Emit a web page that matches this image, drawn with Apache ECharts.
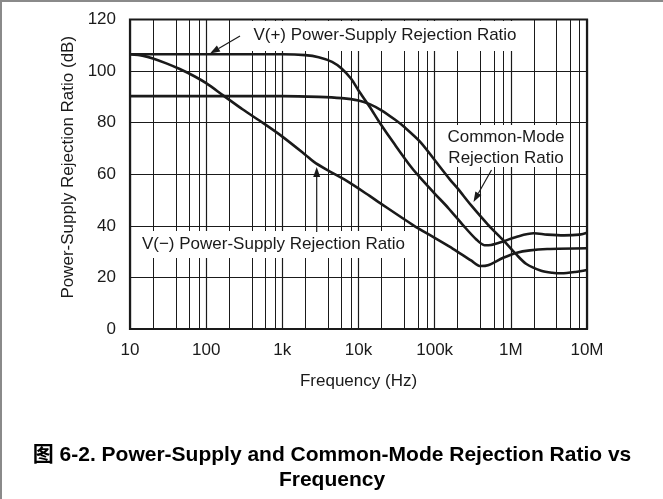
<!DOCTYPE html>
<html><head><meta charset="utf-8">
<script src="https://cdn.jsdelivr.net/npm/echarts@6/dist/echarts.min.js"></script>
<style>html,body{margin:0;padding:0;background:#fff}#c{width:663px;height:499px}</style>
</head><body><div id="c"></div>
<script>
// ---- axis definitions ----
const freqTicks = [10, 100, 1000, 10000, 100000, 1000000, 10000000];
const freqTickLabels = ['10', '100', '1k', '10k', '100k', '1M', '10M'];
const minorMultipliers = [2, 4, 6, 8];
const yMin = 0, yMax = 120, yStep = 20;

// ---- series data ----
const vPlusFreq = [10, 100, 1000, 2000, 3000, 4500, 6000, 8000, 10000, 14000, 19000, 30000, 50000, 70000, 100000, 150000, 240000, 350000, 450000, 550000, 800000, 1200000, 2000000, 3000000, 5000000, 8000000, 10000000];
const vPlusDb   = [106.5, 106.5, 106.5, 106.2, 105.4, 103.6, 101, 97, 92.5, 86.2, 80, 71.5, 62.5, 57.5, 52.5, 47, 40, 34.8, 32.5, 32.6, 34, 35.8, 37.1, 36.6, 36.3, 36.6, 37.3];

const cmrrFreq = [10, 100, 1000, 3000, 6000, 10000, 14000, 20000, 30000, 40000, 65000, 100000, 158000, 200000, 300000, 500000, 870000, 1170000, 1600000, 2500000, 3500000, 4600000, 7000000, 10000000];
const cmrrDb   = [90.3, 90.3, 90.3, 90.0, 89.5, 88.6, 87.2, 84.8, 81.2, 78.3, 72.5, 65.5, 58, 54.5, 48, 40.5, 33.2, 29, 25.2, 22.6, 21.8, 21.6, 22.1, 22.9];

const vMinusFreq = [10, 15, 20, 30, 45, 70, 100, 167, 300, 562, 1000, 2000, 2600, 3800, 7000, 14000, 19000, 52000, 100000, 174000, 300000, 400000, 500000, 794000, 1200000, 1780000, 3000000, 10000000];
const vMinusDb   = [106.5, 105.9, 104.9, 103.0, 100.8, 98.0, 95.3, 90.6, 85.2, 79.8, 74.6, 67.6, 64.8, 61.8, 57.4, 51.6, 48.9, 40.3, 35.3, 31.1, 26.6, 24.4, 24.7, 27.6, 29.6, 30.5, 31, 31.3];

const titleLines = ['图 6-2. Power-Supply and Common-Mode Rejection Ratio vs', 'Frequency'];

// ---- layout ----
const G = { left: 130, top: 19.5, right: 76, bottom: 170 };
const W = 663, H = 499;
const INK = '#1a1a1a';
const FONT = '"Liberation Sans", Arial, Helvetica, "Noto Sans CJK SC", sans-serif';

const minorLines = [];
for (let i = 0; i < freqTicks.length - 1; i++) {
  minorMultipliers.forEach(m => minorLines.push({ xAxis: freqTicks[i] * m }));
}
const zip = (a, b) => a.map((v, i) => [v, b[i]]);

function arrow(x1, y1, x2, y2) {
  const ang = Math.atan2(y2 - y1, x2 - x1);
  const L = 10, Wd = 3.5;
  const bx = x2 - L * Math.cos(ang), by = y2 - L * Math.sin(ang);
  const px = -Math.sin(ang) * Wd, py = Math.cos(ang) * Wd;
  return [
    { type: 'line', z: 50, shape: { x1, y1, x2: bx, y2: by }, style: { stroke: INK, lineWidth: 1.2 } },
    { type: 'polygon', z: 50, shape: { points: [[x2, y2], [bx + px, by + py], [bx - px, by - py]] }, style: { fill: INK } }
  ];
}
function box(x, y, w, h) {
  return { type: 'rect', z: 3, shape: { x, y, width: w, height: h }, style: { fill: '#fff' } };
}
function label(text, x, y) {
  return { type: 'text', z: 50, x, y, style: { text, fill: INK, font: '17px ' + FONT, textAlign: 'center', textVerticalAlign: 'middle' } };
}

const chart = echarts.init(document.getElementById('c'), null, { renderer: 'canvas' });
const lineStyle = { color: INK, width: 2.6 };
const seriesBase = { type: 'line', showSymbol: false, symbol: 'none', smooth: 0.3, z: 5, lineStyle, silent: true };

chart.setOption({
  animation: false,
  backgroundColor: '#fff',
  textStyle: { fontFamily: FONT },
  grid: { left: G.left, top: G.top, right: G.right, bottom: G.bottom, containLabel: false },
  xAxis: {
    type: 'log', logBase: 10, min: freqTicks[0], max: freqTicks[freqTicks.length - 1],
    name: 'Frequency (Hz)', nameLocation: 'middle', nameGap: 44,
    nameTextStyle: { fontSize: 17, color: INK, fontFamily: FONT },
    axisLine: { show: false }, axisTick: { show: false },
    axisLabel: { fontSize: 17, color: INK, margin: 13, fontFamily: FONT,
      formatter: v => { const i = freqTicks.findIndex(t => Math.abs(t - v) / t < 1e-6); return i >= 0 ? freqTickLabels[i] : ''; } },
    splitLine: { show: true, lineStyle: { color: INK, width: 1.2 } }
  },
  yAxis: {
    type: 'value', min: yMin, max: yMax, interval: yStep,
    name: 'Power-Supply Rejection Ratio (dB)', nameLocation: 'middle', nameGap: 53,
    nameTextStyle: { fontSize: 17, color: INK, fontFamily: FONT, padding: [0, 0, 0, 14] },
    axisLine: { show: false }, axisTick: { show: false },
    axisLabel: { fontSize: 17, color: INK, margin: 14, fontFamily: FONT },
    splitLine: { show: true, lineStyle: { color: INK, width: 1.2 } }
  },
  series: [
    { type: 'line', data: [], silent: true, z: 1,
      markLine: { silent: true, symbol: ['none', 'none'], z: 1, label: { show: false },
        lineStyle: { color: INK, width: 1, type: 'solid' }, data: minorLines, animation: false } },
    Object.assign({ name: 'V(+) PSRR', data: zip(vPlusFreq, vPlusDb) }, seriesBase),
    Object.assign({ name: 'CMRR', data: zip(cmrrFreq, cmrrDb) }, seriesBase),
    Object.assign({ name: 'V(-) PSRR', data: zip(vMinusFreq, vMinusDb) }, seriesBase)
  ],
  graphic: [
    // page border (top & left)
    { type: 'rect', z: 100, shape: { x: 0, y: 0, width: W, height: 2 }, style: { fill: '#8a8a8a' } },
    { type: 'rect', z: 100, shape: { x: 0, y: 0, width: 2, height: H }, style: { fill: '#8a8a8a' } },
    // annotation backgrounds
    box(243, 21, 283, 30),
    box(442, 125, 126, 42),
    box(136, 231, 273, 27),
    // annotation texts
    label('V(+) Power-Supply Rejection Ratio', 385, 35),
    label('Common-Mode', 506, 137),
    label('Rejection Ratio', 506, 158),
    label('V(\u2212) Power-Supply Rejection Ratio', 273.5, 244),
    ...arrow(240, 36, 210, 53.5),
    ...arrow(491.5, 170, 473.5, 202),
    ...arrow(316.7, 232, 316.7, 167),
    // plot frame
    { type: 'rect', z: 60, shape: { x: G.left, y: G.top, width: W - G.left - G.right, height: H - G.top - G.bottom },
      style: { fill: 'none', stroke: INK, lineWidth: 2.2 } },
    // title
    { type: 'text', z: 50, x: 332, y: 455, style: { text: titleLines[0], fill: '#000', font: 'bold 21px ' + FONT, textAlign: 'center', textVerticalAlign: 'middle' } },
    { type: 'text', z: 50, x: 332, y: 480, style: { text: titleLines[1], fill: '#000', font: 'bold 21px ' + FONT, textAlign: 'center', textVerticalAlign: 'middle' } }
  ]
});
</script>
</body></html>
